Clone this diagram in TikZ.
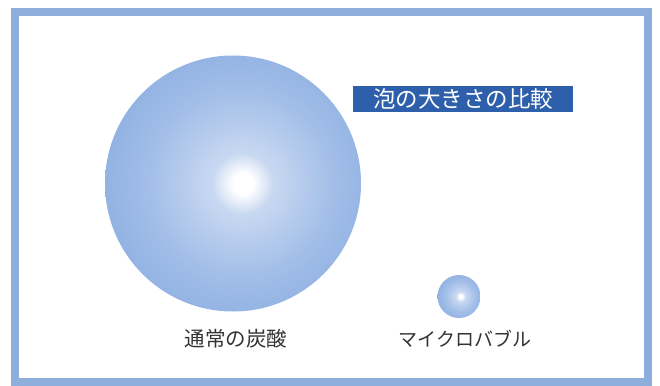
\documentclass[tikz,border=0pt]{standalone}
\usepackage{fontspec}
\newfontfamily\jp{Noto Sans CJK JP}
\definecolor{framecol}{HTML}{8EAEDC}
\definecolor{titleblue}{HTML}{2E5FAA}
\definecolor{labelgray}{HTML}{333333}
\definecolor{edgeblue}{HTML}{6C97D6}
\definecolor{midblue}{HTML}{A2BEE8}
\definecolor{innerblue}{HTML}{C8D8F1}
\pgfdeclareradialshading{bubble}{\pgfpoint{2bp}{0bp}}{%
  color(0bp)=(white); color(2bp)=(white); color(6bp)=(innerblue);
  color(18bp)=(midblue); color(47bp)=(edgeblue); color(75bp)=(edgeblue)}
\tikzset{
  bubblenode/.style={circle, inner sep=0pt, shading=bubble},
  labeltext/.style={text=labelgray, inner sep=0pt},
}
\begin{document}
\begin{tikzpicture}[x=1pt,y=-1pt]
\useasboundingbox (0,0) rectangle (660,385);
\fill[white] (0,0) rectangle (660,385);
\draw[framecol, line width=8pt] (15,12) rectangle (647.5,381.5);
\node[bubblenode, minimum size=256pt] (big) at (233,183.5) {};
\node[bubblenode, minimum size=43pt] (small) at (459,296.5) {};
\node[fill=titleblue, text=white, minimum width=220pt, minimum height=26pt, inner sep=0pt,
      font=\jp\fontsize{22.5}{24}\selectfont] (title) at (463,99) {泡の大きさの比較};
\node[labeltext, font=\jp\fontsize{20.5}{24}\selectfont] (lab1) at (236,339) {通常の炭酸};
\node[labeltext, font=\jp\fontsize{19}{22}\selectfont] (lab2) at (465,339) {マイクロバブル};
\end{tikzpicture}
\end{document}
